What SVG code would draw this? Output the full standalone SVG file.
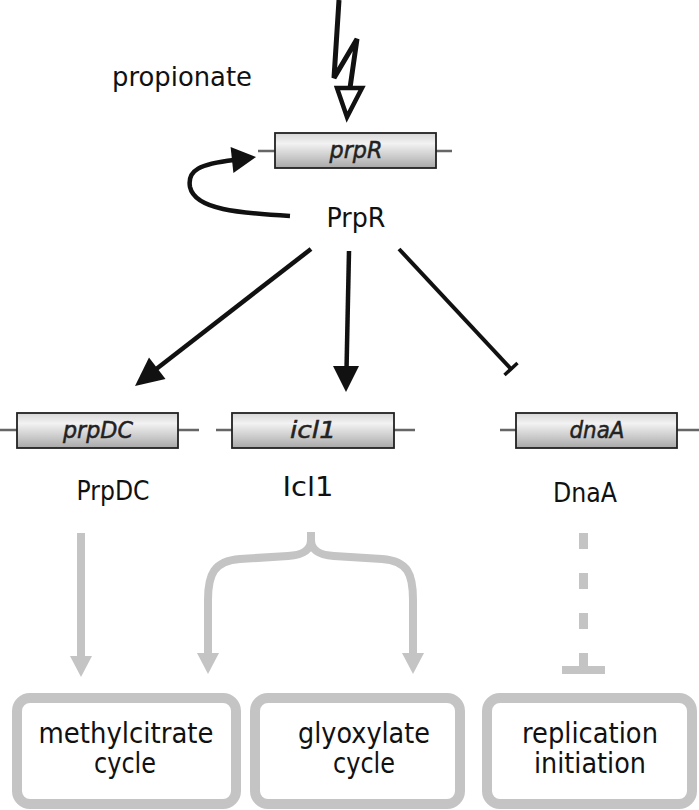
<svg xmlns="http://www.w3.org/2000/svg" width="699" height="810" viewBox="0 0 699 810">
<defs>
<linearGradient id="gg" x1="0" y1="0" x2="0" y2="1">
<stop offset="0" stop-color="#d6d6d6"/>
<stop offset="0.3" stop-color="#f2f2f2"/>
<stop offset="1" stop-color="#a9a9a9"/>
</linearGradient>
<style>
.gene{fill:url(#gg);stroke:#222;stroke-width:1.8}
.flank{stroke:#666;stroke-width:2.5;fill:none}
.gt{font-family:"DejaVu Sans",sans-serif;font-style:italic;font-size:23px;fill:#222;text-anchor:middle;stroke:#222;stroke-width:0.5}
.lab{font-family:"DejaVu Sans",sans-serif;font-size:27px;fill:#111;text-anchor:middle}
.bt{font-family:"DejaVu Sans",sans-serif;font-size:27.5px;fill:#111;text-anchor:middle}
.blk{stroke:#111;stroke-width:4.5;fill:none}
.gry{stroke:#c4c4c4;stroke-width:8;fill:none}
.box{fill:#fff;stroke:#c4c4c4;stroke-width:10}
</style>
</defs>
<rect width="699" height="810" fill="#fff"/>

<g id="signal">
<text class="lab" x="182" y="86" textLength="140" lengthAdjust="spacingAndGlyphs">propionate</text>
<path d="M339,0 L334,78 L357,39 L350,88" stroke="#111" stroke-width="5" fill="none" stroke-linejoin="miter"/>
<polygon points="337,88 362,88 347,117" fill="#fff" stroke="#111" stroke-width="4.5"/>
</g>

<g id="gene-prpR">
<line class="flank" x1="258" y1="151" x2="452" y2="151"/>
<rect class="gene" x="275" y="133" width="161" height="35"/>
<text class="gt" x="356" y="158" textLength="53" lengthAdjust="spacingAndGlyphs">prpR</text>
</g>

<g id="PrpR">
<text class="lab" x="356" y="227" textLength="59" lengthAdjust="spacingAndGlyphs">PrpR</text>
</g>

<g id="gene-prpDC">
<line class="flank" x1="0" y1="430" x2="199" y2="430"/>
<rect class="gene" x="17" y="413" width="161" height="35"/>
<text class="gt" x="98" y="438" textLength="70" lengthAdjust="spacingAndGlyphs">prpDC</text>
<text class="lab" x="113" y="500" textLength="73" lengthAdjust="spacingAndGlyphs">PrpDC</text>
</g>

<g id="gene-icl1">
<line class="flank" x1="216" y1="430" x2="415" y2="430"/>
<rect class="gene" x="232" y="413" width="162" height="35"/>
<text class="gt" x="313" y="438" textLength="46" lengthAdjust="spacingAndGlyphs">icl1</text>
<text class="lab" x="308" y="496" textLength="51" lengthAdjust="spacingAndGlyphs">Icl1</text>
</g>

<g id="gene-dnaA">
<line class="flank" x1="500" y1="430" x2="699" y2="430"/>
<rect class="gene" x="516" y="413" width="161" height="35"/>
<text class="gt" x="597" y="438" textLength="55" lengthAdjust="spacingAndGlyphs">dnaA</text>
<text class="lab" x="585" y="502" textLength="64" lengthAdjust="spacingAndGlyphs">DnaA</text>
</g>

<g id="box-methylcitrate">
<rect class="box" x="17" y="698" width="219" height="106" rx="13"/>
<text class="bt" x="126" y="743" textLength="175" lengthAdjust="spacingAndGlyphs">methylcitrate</text>
<text class="bt" x="125" y="773" textLength="62" lengthAdjust="spacingAndGlyphs">cycle</text>
</g>

<g id="box-glyoxylate">
<rect class="box" x="255" y="698" width="205" height="106" rx="13"/>
<text class="bt" x="364" y="743" textLength="132" lengthAdjust="spacingAndGlyphs">glyoxylate</text>
<text class="bt" x="364" y="773" textLength="62" lengthAdjust="spacingAndGlyphs">cycle</text>
</g>

<g id="box-replication">
<rect class="box" x="487" y="698" width="205" height="106" rx="13"/>
<text class="bt" x="590" y="743" textLength="136" lengthAdjust="spacingAndGlyphs">replication</text>
<text class="bt" x="590" y="773" textLength="112" lengthAdjust="spacingAndGlyphs">initiation</text>
</g>

<g id="connectors">
<path class="blk" d="M290,216 C240,213 195,210 190,187 C187,170 200,164 234,160"/>
<polygon points="256,157 230.6,147 233.4,173" fill="#111"/>
<line class="blk" x1="311" y1="249" x2="155" y2="370"/>
<polygon points="135,386 165.5,379 149,357.5" fill="#111"/>
<line class="blk" x1="349" y1="251" x2="346.5" y2="370"/>
<polygon points="346,392 333,366 359,366" fill="#111"/>
<line x1="399" y1="249" x2="511" y2="369" stroke="#111" stroke-width="4"/>
<line x1="504.5" y1="375" x2="517.5" y2="363" stroke="#111" stroke-width="3.5"/>

<line class="gry" x1="81" y1="533" x2="81" y2="658"/>
<polygon points="70,656 92,656 81,677" fill="#c4c4c4"/>
<path class="gry" d="M311,532 L311,540 C311,552 300,555 288,556 L240,559 C214,561 208,574 208,600 L208,656"/>
<path class="gry" d="M311,540 C311,552 322,555 334,556 L382,559 C408,561 413,574 413,600 L413,656"/>
<polygon points="197,653 219,653 208,674" fill="#c4c4c4"/>
<polygon points="402,653 424,653 413,674" fill="#c4c4c4"/>
<rect x="579" y="533" width="9" height="16" fill="#c4c4c4"/>
<rect x="579" y="573" width="9" height="16" fill="#c4c4c4"/>
<rect x="579" y="613" width="9" height="16" fill="#c4c4c4"/>
<rect x="579" y="653" width="9" height="15" fill="#c4c4c4"/>
<rect x="562" y="666" width="43" height="8" fill="#c4c4c4"/>
</g>
</svg>
